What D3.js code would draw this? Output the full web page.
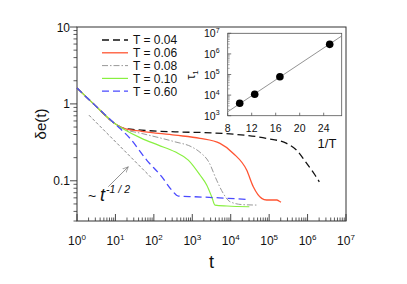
<!DOCTYPE html>
<html><head><meta charset="utf-8">
<script src="https://cdn.jsdelivr.net/npm/d3@7"></script>
<style>body{margin:0;background:#fff}svg{display:block;font-family:"Liberation Sans",Arial,sans-serif}</style>
</head><body><svg id="c" width="407" height="284"></svg>
<script>
// ---- data ----
const temps = ["0.04", "0.06", "0.08", "0.10", "0.60"];
const t004 = [1, 3, 9, 17, 48, 355, 3200, 11700, 86000, 286000, 520000, 950000, 1560000, 2020000];
const v004 = [1.61, 0.95, 0.57, 0.48, 0.455, 0.433, 0.42, 0.404, 0.356, 0.306, 0.25, 0.168, 0.119, 0.097];
const t006 = [1, 3, 9, 17, 48, 355, 1585, 5260, 11700, 26000, 38700, 64000, 86000, 160000, 180000, 203000];
const v006 = [1.61, 0.95, 0.57, 0.48, 0.44, 0.392, 0.356, 0.306, 0.227, 0.138, 0.0837, 0.0591, 0.0563, 0.0563, 0.0545, 0.0525];
const t008 = [1, 3, 9, 17, 48, 355, 965, 1585, 2700, 4300, 6400, 9600, 20000, 52000];
const v008 = [1.61, 0.95, 0.57, 0.47, 0.413, 0.321, 0.276, 0.235, 0.175, 0.102, 0.0685, 0.0535, 0.049, 0.0483];
const t010 = [1, 3, 9, 17, 48, 131, 355, 788, 1585, 2370, 3200, 3900, 8000, 30500];
const v010 = [1.61, 0.95, 0.57, 0.465, 0.356, 0.291, 0.238, 0.186, 0.119, 0.088, 0.062, 0.0483, 0.047, 0.046];
const t060 = [1, 3, 9, 24, 65, 160, 291, 433, 1175, 5000, 29000];
const v060 = [1.61, 0.95, 0.57, 0.356, 0.186, 0.113, 0.0757, 0.0633, 0.062, 0.06, 0.057];
const guideT = [2.05, 84];
const guideV = [0.713, 0.111];
const xTicks = [1, 10, 100, 1000, 1e4, 1e5, 1e6, 1e7];
const xTickExp = ["0", "1", "2", "3", "4", "5", "6", "7"];
const yTicks = [0.1, 1, 10];
const yTickLabels = ["0.1", "1", "10"];
// inset
const invT = [10, 12.5, 16.7, 25];
const tau1 = [4000, 11000, 78000, 2900000];
const fitInvT = [8, 27];
const fitTau = [1550, 7400000];
const insetXTicks = [8, 12, 16, 20, 24];
const insetYTicks = [1e3, 1e4, 1e5, 1e6, 1e7];
const insetYExp = ["3", "4", "5", "6", "7"];

// ---- styles ----
const styles = [
  {color: "#111", dash: "7,4", w: 1.3},
  {color: "#ff5533", dash: null, w: 1.3},
  {color: "#999", dash: "6,2,1.5,2", w: 1},
  {color: "#88f040", dash: null, w: 1.2},
  {color: "#4a4aff", dash: "7,4", w: 1.3}
];
const series = [[t004, v004], [t006, v006], [t008, v008], [t010, v010], [t060, v060]];

const svg = d3.select("#c");
const L = 77, R = 346, T = 27, B = 221;
const x = d3.scaleLog().domain([1, 1e7]).range([L, R]);
const y = d3.scaleLog().domain([0.03, 10]).range([B, T]);

// frame
svg.append("rect").attr("x", L).attr("y", T).attr("width", R - L).attr("height", B - T)
  .attr("fill", "none").attr("stroke", "#333").attr("stroke-width", 1);

// x ticks (inward)
const xMinor = [];
for (let e = 0; e < 7; e++) for (let k = 2; k <= 9; k++) xMinor.push(k * Math.pow(10, e));
svg.append("g").selectAll("line").data(xMinor).join("line")
  .attr("x1", d => x(d)).attr("x2", d => x(d)).attr("y1", B).attr("y2", B - 3.5)
  .attr("stroke", "#333").attr("stroke-width", 0.8);
svg.append("g").selectAll("line").data(xTicks).join("line")
  .attr("x1", d => x(d)).attr("x2", d => x(d)).attr("y1", B).attr("y2", B - 7)
  .attr("stroke", "#333").attr("stroke-width", 0.9);
const xl = svg.append("g").selectAll("text").data(xTicks).join("text")
  .attr("x", d => x(d)).attr("y", 245).attr("text-anchor", "middle")
  .attr("font-size", 12).attr("fill", "#111");
xl.append("tspan").text("10");
xl.append("tspan").attr("font-size", 8).attr("dy", -5).text((d, i) => xTickExp[i]);

// y ticks (outward)
const yMinor = [];
for (const base of [0.01, 0.1, 1]) for (let k = 2; k <= 9; k++) { const v = k * base; if (v >= 0.03 && v < 10) yMinor.push(v); }
svg.append("g").selectAll("line").data(yMinor).join("line")
  .attr("x1", L).attr("x2", L - 3.5).attr("y1", d => y(d)).attr("y2", d => y(d))
  .attr("stroke", "#333").attr("stroke-width", 0.8);
svg.append("g").selectAll("line").data(yTicks).join("line")
  .attr("x1", L).attr("x2", L - 7).attr("y1", d => y(d)).attr("y2", d => y(d))
  .attr("stroke", "#333").attr("stroke-width", 0.9);
svg.append("g").selectAll("text").data(yTicks).join("text")
  .attr("x", 70).attr("y", d => y(d) + 4.5).attr("text-anchor", "end")
  .attr("font-size", 12).attr("fill", "#111").text((d, i) => yTickLabels[i]);

// axis titles
svg.append("text").attr("x", 211.5).attr("y", 268).attr("text-anchor", "middle")
  .attr("font-size", 18).attr("fill", "#111").text("t");
svg.append("text").attr("transform", "translate(46,124) rotate(-90)").attr("text-anchor", "middle")
  .attr("font-size", 15).attr("fill", "#111").text("δe(t)");

// curves
const line = d3.line().x(d => x(d[0])).y(d => y(d[1])).curve(d3.curveMonotoneX);
series.forEach((s, i) => {
  const pts = s[0].map((t, j) => [t, s[1][j]]);
  svg.append("path").attr("d", line(pts)).attr("fill", "none")
    .attr("stroke", styles[i].color).attr("stroke-width", styles[i].w)
    .attr("stroke-dasharray", styles[i].dash);
});

// guide t^-1/2
svg.append("path").attr("d", d3.line().x(d => x(d[0])).y(d => y(d[1]))(guideT.map((t, j) => [t, guideV[j]])))
  .attr("fill", "none").attr("stroke", "#777").attr("stroke-width", 0.9).attr("stroke-dasharray", "3,2");

// arrow
svg.append("defs").append("marker").attr("id", "ah").attr("viewBox", "0 0 10 10")
  .attr("refX", 9).attr("refY", 5).attr("markerWidth", 8).attr("markerHeight", 8).attr("orient", "auto")
  .append("path").attr("d", "M0,1 L9,5 L0,9").attr("fill", "none").attr("stroke", "#777").attr("stroke-width", 1);
svg.append("line").attr("x1", x(6.5)).attr("y1", y(0.0837)).attr("x2", x(21.6)).attr("y2", y(0.152))
  .attr("stroke", "#777").attr("stroke-width", 0.8).attr("marker-end", "url(#ah)");

// label ~ t^-1/2
const gl = svg.append("text").attr("x", 88).attr("y", 201).attr("fill", "#111");
gl.append("tspan").attr("font-size", 14).text("~ ");
gl.append("tspan").attr("font-size", 18).attr("font-style", "italic").text("t");
gl.append("tspan").attr("font-size", 10.5).attr("font-style", "italic").attr("dy", -8).attr("dx", 1).text("-1 / 2");

// legend
const lg = svg.append("g");
temps.forEach((tv, i) => {
  const yy = 40 + i * 12.8;
  lg.append("line").attr("x1", 102).attr("x2", 128).attr("y1", yy).attr("y2", yy)
    .attr("stroke", styles[i].color).attr("stroke-width", styles[i].w).attr("stroke-dasharray", styles[i].dash);
  lg.append("text").attr("x", 133).attr("y", yy + 4.3).attr("font-size", 12).attr("fill", "#111").text("T = " + tv);
});

// ---- inset ----
const iL = 227.7, iR = 341.7, iT = 33.3, iB = 115.7;
const xi = d3.scaleLinear().domain([8, 27]).range([iL, iR]);
const yi = d3.scaleLog().domain([1e3, 1e7]).range([iB, iT]);
svg.append("rect").attr("x", iL).attr("y", iT).attr("width", iR - iL).attr("height", iB - iT)
  .attr("fill", "#fff").attr("stroke", "#555").attr("stroke-width", 0.8);
svg.append("g").selectAll("line").data(insetXTicks).join("line")
  .attr("x1", d => xi(d)).attr("x2", d => xi(d)).attr("y1", iB).attr("y2", iB - 3)
  .attr("stroke", "#555").attr("stroke-width", 0.8);
svg.append("g").selectAll("text").data(insetXTicks).join("text")
  .attr("x", d => xi(d)).attr("y", 132).attr("text-anchor", "middle")
  .attr("font-size", 10.5).attr("fill", "#111").text(d => d);
const iyMinor = [];
for (let e = 3; e < 7; e++) for (let k = 2; k <= 9; k++) iyMinor.push(k * Math.pow(10, e));
svg.append("g").selectAll("line").data(iyMinor).join("line")
  .attr("x1", iL).attr("x2", iL + 2).attr("y1", d => yi(d)).attr("y2", d => yi(d))
  .attr("stroke", "#777").attr("stroke-width", 0.6);
svg.append("g").selectAll("line").data(insetYTicks).join("line")
  .attr("x1", iL).attr("x2", iL + 3.5).attr("y1", d => yi(d)).attr("y2", d => yi(d))
  .attr("stroke", "#555").attr("stroke-width", 0.8);
const iyl = svg.append("g").selectAll("text").data(insetYTicks).join("text")
  .attr("x", 204).attr("y", d => yi(d) + 4).attr("font-size", 10.5).attr("fill", "#111");
iyl.append("tspan").text("10");
iyl.append("tspan").attr("font-size", 7).attr("dy", -4.5).text((d, i) => insetYExp[i]);
svg.append("text").attr("transform", "translate(195,75) rotate(-90)").attr("text-anchor", "middle")
  .attr("font-size", 13).attr("fill", "#111").call(t => {
    t.append("tspan").text("τ");
    t.append("tspan").attr("font-size", 8).attr("dy", 3).text("1");
  });
svg.append("text").attr("x", 327).attr("y", 148).attr("text-anchor", "middle")
  .attr("font-size", 13).attr("fill", "#111").text("1/T");
svg.append("line").attr("x1", xi(fitInvT[0])).attr("y1", yi(fitTau[0]))
  .attr("x2", xi(fitInvT[1])).attr("y2", yi(fitTau[1]))
  .attr("stroke", "#777").attr("stroke-width", 0.8);
svg.append("g").selectAll("circle").data(invT).join("circle")
  .attr("cx", d => xi(d)).attr("cy", (d, i) => yi(tau1[i])).attr("r", 3.8).attr("fill", "#000");
</script></body></html>
